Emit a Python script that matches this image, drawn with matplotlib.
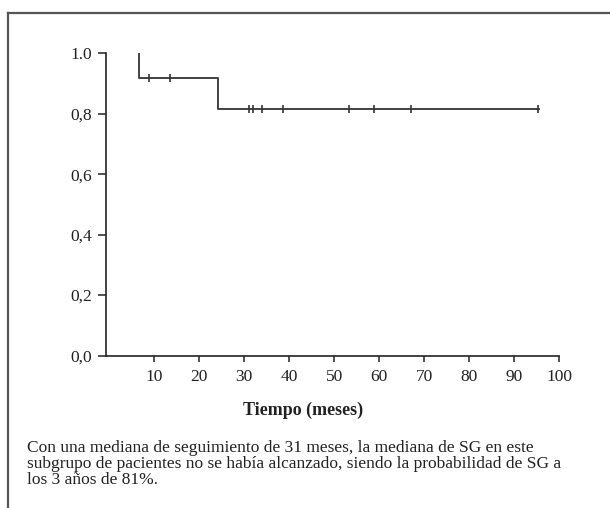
import matplotlib
matplotlib.use("Agg")
import matplotlib.pyplot as plt
from matplotlib.lines import Line2D

# curva de supervivencia global (Kaplan-Meier)
step_times = [6.6, 6.6, 24.2, 24.2, 95.4]
step_surv = [1.0, 0.917, 0.917, 0.815, 0.815]

# censuras
cens_times = [8.75, 13.6, 31.0, 32.0, 34.0, 38.7, 53.2, 58.8, 67.0, 95.2]
cens_surv = [0.917, 0.917, 0.815, 0.815, 0.815, 0.815, 0.815, 0.815, 0.815, 0.815]

x_ticks = [10, 20, 30, 40, 50, 60, 70, 80, 90, 100]
y_ticks = [0.0, 0.2, 0.4, 0.6, 0.8, 1.0]
y_labels = ["0,0", "0,2", "0,4", "0,6", "0,8", "1.0"]

caption = ("Con una mediana de seguimiento de 31 meses, la mediana de SG en este\n"
           "subgrupo de pacientes no se había alcanzado, siendo la probabilidad de SG a\n"
           "los 3 años de 81%.")

plt.rcParams['font.family'] = ['Liberation Serif', 'DejaVu Serif']
txt_color = '#222222'

W, H = 610, 508
fig = plt.figure(figsize=(W / 100, H / 100), dpi=100)
ax = fig.add_axes([106 / W, 1 - 355.5 / H, (559.3 - 106) / W, (355.5 - 53.3) / H])

ax.plot(step_times, step_surv, color='#333333', lw=1.3)
ax.plot(cens_times, cens_surv, linestyle='none', marker='|', markersize=6,
        markeredgewidth=1.2, color='#333333')

ax.set_xlim(-0.73, 100)
ax.set_ylim(0, 1.0)
ax.set_xticks(x_ticks)
ax.set_xticklabels([str(t) for t in x_ticks])
ax.set_yticks(y_ticks)
ax.set_yticklabels(y_labels)

for s in ['top', 'right']:
    ax.spines[s].set_visible(False)
for s in ['left', 'bottom']:
    ax.spines[s].set_linewidth(1.2)
    ax.spines[s].set_color('#222222')

ax.tick_params(axis='x', direction='out', length=4, width=1.1, pad=6,
               labelsize=12.5, colors='#222222', labelcolor=txt_color)
ax.tick_params(axis='y', direction='out', length=6, width=1.1, pad=4,
               labelsize=12.5, colors='#222222', labelcolor=txt_color)

fig.text(303 / W, 1 - 410 / H, "Tiempo (meses)", ha='center', va='center',
         fontsize=13, fontweight='bold', color=txt_color)

fig.text(27 / W, 1 - 440 / H, caption, ha='left', va='top', fontsize=12.5,
         color=txt_color, linespacing=1.02)

# marco de la figura (borde superior e izquierdo)
fig.add_artist(Line2D([8 / W, 1.0], [1 - 13 / H, 1 - 13 / H], transform=fig.transFigure,
                      color='#555555', lw=1.6))
fig.add_artist(Line2D([8 / W, 8 / W], [1 - 13 / H, 0.0], transform=fig.transFigure,
                      color='#555555', lw=1.6))

fig.savefig("out.png", dpi=100)
